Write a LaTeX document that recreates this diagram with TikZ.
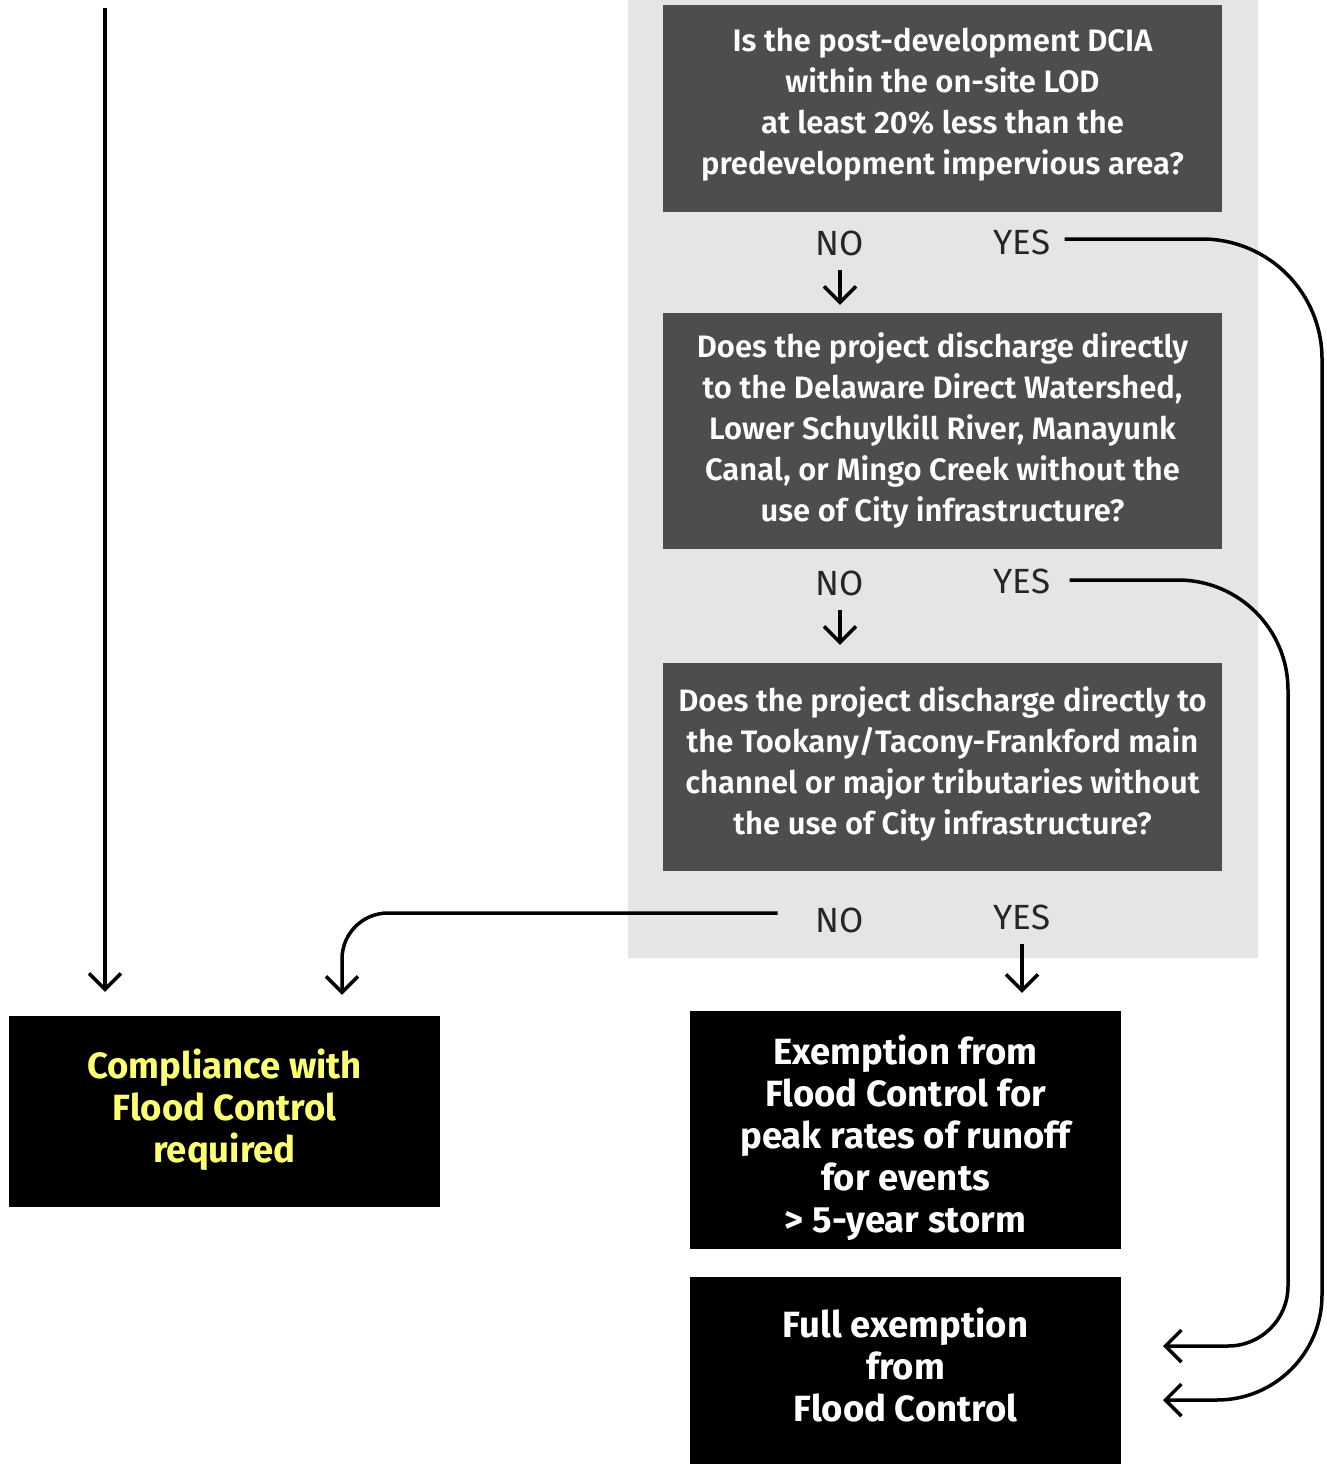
\documentclass[tikz,border=0pt]{standalone}
\usepackage{fontspec}
\setmainfont{Fira Sans}
\newfontfamily\qfont{Fira Sans SemiBold}
\newfontfamily\lfont{Fira Sans}
\newfontfamily\bfont{Fira Sans Bold}
\usetikzlibrary{arrows.meta}
\definecolor{panel}{HTML}{E5E5E5}
\definecolor{qgrey}{HTML}{4D4D4D}
\definecolor{ylw}{HTML}{FFFF73}
\tikzset{
  qbox/.style={rectangle, fill=qgrey, text=white, align=center, inner sep=0pt,
    minimum width=559pt, font=\qfont\fontsize{31}{41}\selectfont},
  obox/.style={rectangle, fill=black, text=white, align=center, inner sep=0pt,
    minimum width=431pt, font=\bfont\fontsize{36.5}{42}\selectfont},
  lbl/.style={inner sep=0pt, text=black!85, font=\lfont\fontsize{35}{40}\selectfont},
  conn/.style={line width=3.5pt, -{Straight Barb[length=16pt,width=32pt]}},
}
\begin{document}
\begin{tikzpicture}[x=1pt,y=-1pt]
\useasboundingbox (0,0) rectangle (1326,1464);
\fill[panel] (628,0) rectangle (1258,958);

\node[qbox, minimum height=207pt] (q1) at (942.5,108.5) {};
\node[qbox, minimum height=236pt] (q2) at (942.5,431) {};
\node[qbox, minimum height=208pt] (q3) at (942.5,767) {};
\node[qbox, fill=none] (q1t) at (942.5,104.5)
  {Is the post-development DCIA\\within the on-site LOD\\at least 20\% less than the\\predevelopment impervious area?};
\node[qbox, fill=none] (q2t) at (942.5,430)
  {Does the project discharge directly\\to the Delaware Direct Watershed,\\Lower Schuylkill River, Manayunk\\Canal, or Mingo Creek without the\\use of City infrastructure?};
\node[qbox, fill=none] (q3t) at (942.5,764)
  {Does the project discharge directly to\\the Tookany/Tacony-Frankford main\\channel or major tributaries without\\the use of City infrastructure?};

\node[obox, minimum height=191pt] (comp) at (224.5,1111.5) {};
\node[obox, minimum height=238pt] (exem) at (905.5,1130) {};
\node[obox, minimum height=187pt] (full) at (905.5,1370.5) {};
\node[obox, fill=none, text=ylw] (compt) at (224.5,1110)
  {Compliance with\\Flood Control\\required};
\node[obox, fill=none] (exemt) at (905.5,1138)
  {Exemption from\\Flood Control for\\peak rates of runoff\\for events\\> 5-year storm};
\node[obox, fill=none] (fullt) at (905.5,1364.5)
  {Full exemption\\from\\Flood Control};

\node[lbl] (no1) at (840,243) {NO};
\node[lbl] (yes1) at (1022,242) {YES};
\node[lbl] (no2) at (840,583) {NO};
\node[lbl] (yes2) at (1022,581) {YES};
\node[lbl] (no3) at (840,920) {NO};
\node[lbl] (yes3) at (1022,917) {YES};

\coordinate (start) at (105,8);
\coordinate (fe1) at (1163,1400);
\coordinate (fe2) at (1163,1346);

\draw[conn, shorten >=24pt] (start) -- (comp.north -| start);
\draw[conn, shorten >=8pt] ([yshift=-14pt]no1.south) -- (q2.north -| no1);
\draw[conn, shorten >=18pt] ([yshift=-14pt]no2.south) -- (q3.north -| no2);
\draw[conn, shorten >=18pt] ([yshift=-14pt]yes3.south) -- (exem.north -| yes3);
\draw[conn, shorten >=21pt, rounded corners=46pt] ([xshift=-38pt,yshift=7pt]no3.west) -| ([xshift=117.5pt]comp.north);
\draw[conn] ([xshift=14pt,yshift=3pt]yes1.east) [rounded corners=120pt] -- (1322,239) [rounded corners=105pt] -- (1322,1400) -- (fe1);
\draw[conn] ([xshift=19pt,yshift=1pt]yes2.east) [rounded corners=110pt] -- (1288,580) [rounded corners=60pt] -- (1288,1346) -- (fe2);
\end{tikzpicture}
\end{document}
